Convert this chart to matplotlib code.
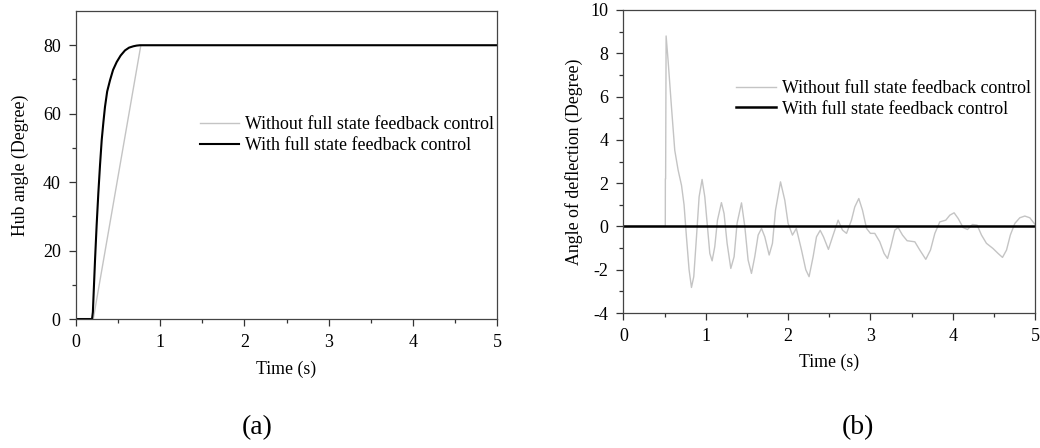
import matplotlib.pyplot as plt
import numpy as np

# (a) hub angle response
t_hub = [0.0, 0.19, 0.2, 0.226, 0.245, 0.265, 0.285, 0.305, 0.325, 0.344, 0.37,
         0.404, 0.44, 0.483, 0.53, 0.582, 0.63, 0.681, 0.72, 0.76, 5.0]
hub_with = [0.0, 0.0, 2.0, 17.4, 27.5, 36.8, 45.0, 52.3, 57.5, 62.0, 66.5,
            69.8, 72.8, 75.1, 77.0, 78.5, 79.3, 79.7, 79.9, 80.0, 80.0]
t_hub_wo = [0.0, 0.205, 0.77, 5.0]
hub_without = [0.0, 0.0, 80.0, 80.0]

# (b) deflection angle response
t_def = [0.0, 0.508, 0.509, 0.512, 0.518, 0.542, 0.583, 0.623, 0.664, 0.705,
         0.736, 0.765, 0.797, 0.826, 0.854, 0.887, 0.919, 0.955, 0.988, 1.02,
         1.049, 1.077, 1.109, 1.142, 1.19, 1.222, 1.259, 1.304, 1.344, 1.38,
         1.434, 1.474, 1.514, 1.555, 1.595, 1.636, 1.677, 1.717, 1.77, 1.81,
         1.847, 1.908, 1.96, 2.0, 2.053, 2.10, 2.163, 2.215, 2.255, 2.304,
         2.345, 2.39, 2.43, 2.49, 2.54, 2.608, 2.661, 2.71, 2.77, 2.81,
         2.859, 2.904, 2.953, 3.0, 3.053, 3.114, 3.167, 3.208, 3.248, 3.297,
         3.337, 3.39, 3.446, 3.54, 3.60, 3.673, 3.73, 3.783, 3.843, 3.916,
         3.965, 4.017, 4.066, 4.126, 4.18, 4.24, 4.297, 4.35, 4.41, 4.49,
         4.552, 4.605, 4.654, 4.70, 4.755, 4.815, 4.876, 4.937, 4.99, 5.0]
def_without = [0.0, 0.0, 2.2, 2.2, 8.8, 7.67, 5.52, 3.52, 2.6, 1.9,
               1.0, -0.48, -2.0, -2.82, -2.32, -0.48, 1.37, 2.17, 1.37, 0.0,
               -1.25, -1.59, -0.94, 0.29, 1.1, 0.6, -0.78, -1.94, -1.40, 0.14,
               1.09, 0.0, -1.55, -2.17, -1.4, -0.4, -0.09, -0.48, -1.32, -0.78,
               0.75, 2.06, 1.21, 0.14, -0.4, -0.09, -1.09, -2.0, -2.32, -1.40,
               -0.48, -0.18, -0.48, -1.06, -0.48, 0.29, -0.17, -0.32, 0.29, 0.9,
               1.29, 0.75, -0.09, -0.32, -0.32, -0.71, -1.25, -1.48, -0.94, -0.17,
               -0.05, -0.4, -0.66, -0.71, -1.09, -1.52, -1.09, -0.32, 0.21, 0.29,
               0.52, 0.63, 0.37, -0.05, -0.14, 0.09, 0.06, -0.4, -0.78, -1.02,
               -1.25, -1.43, -1.09, -0.4, 0.14, 0.40, 0.48, 0.40, 0.14, 0.1]
t_def_w = [0.0, 5.0]
def_with = [0.0, 0.0]

plt.rcParams['font.family'] = ['Liberation Serif', 'DejaVu Serif']
plt.rcParams['font.size'] = 13
plt.rcParams['axes.unicode_minus'] = False

gray = '#c4c4c4'
fig = plt.figure(figsize=(10.4, 4.48), dpi=100)
ax1 = fig.add_axes([0.0731, 0.2879, 0.4048, 0.6875])
ax2 = fig.add_axes([0.5995, 0.3013, 0.3957, 0.6764])

ax1.plot(t_hub_wo, hub_without, color=gray, lw=1.0,
         label='Without full state feedback control')
ax1.plot(t_hub, hub_with, color='black', lw=1.5,
         label='With full state feedback control')
ax1.set_xlim(0, 5)
ax1.set_ylim(0, 90)
ax1.set_xticks(np.arange(0, 6, 1))
ax1.set_xticks(np.arange(0.5, 5, 1), minor=True)
ax1.set_yticks(np.arange(0, 81, 20))
ax1.set_yticks(np.arange(10, 90, 20), minor=True)
ax1.set_xlabel('Time (s)', fontsize=12.8, labelpad=7)
ax1.set_ylabel('Hub angle (Degree)', fontsize=12.8, labelpad=10)
ax1.legend(loc='upper left', bbox_to_anchor=(0.255, 0.71), frameon=False,
           fontsize=12.9, handlelength=2.2, handletextpad=0.35, labelspacing=0.2)

ax2.plot(t_def, def_without, color=gray, lw=1.0,
         label='Without full state feedback control')
ax2.plot(t_def_w, def_with, color='black', lw=1.8,
         label='With full state feedback control')
ax2.set_xlim(0, 5)
ax2.set_ylim(-4, 10)
ax2.set_xticks(np.arange(0, 6, 1))
ax2.set_xticks(np.arange(0.5, 5, 1), minor=True)
ax2.set_yticks(np.arange(-4, 11, 2))
ax2.set_yticks(np.arange(-3, 10, 2), minor=True)
ax2.set_xlabel('Time (s)', fontsize=12.8, labelpad=6)
ax2.set_ylabel('Angle of deflection (Degree)', fontsize=12.8, labelpad=5)
ax2.legend(loc='upper left', bbox_to_anchor=(0.235, 0.822), frameon=False,
           fontsize=12.9, handlelength=2.2, handletextpad=0.35, labelspacing=0.2)

for ax in (ax1, ax2):
    for s in ax.spines.values():
        s.set_color('#444444')
        s.set_linewidth(0.9)
    ax.tick_params(which='major', direction='out', length=5, width=0.9,
                   colors='#333333', labelcolor='black', pad=6)
    ax.tick_params(which='minor', direction='out', length=3, width=0.9,
                   colors='#333333')

fig.text(0.247, 0.045, '(a)', fontsize=20, ha='center', va='center')
fig.text(0.825, 0.045, '(b)', fontsize=20, ha='center', va='center')

fig.savefig('out.png', dpi=100)
